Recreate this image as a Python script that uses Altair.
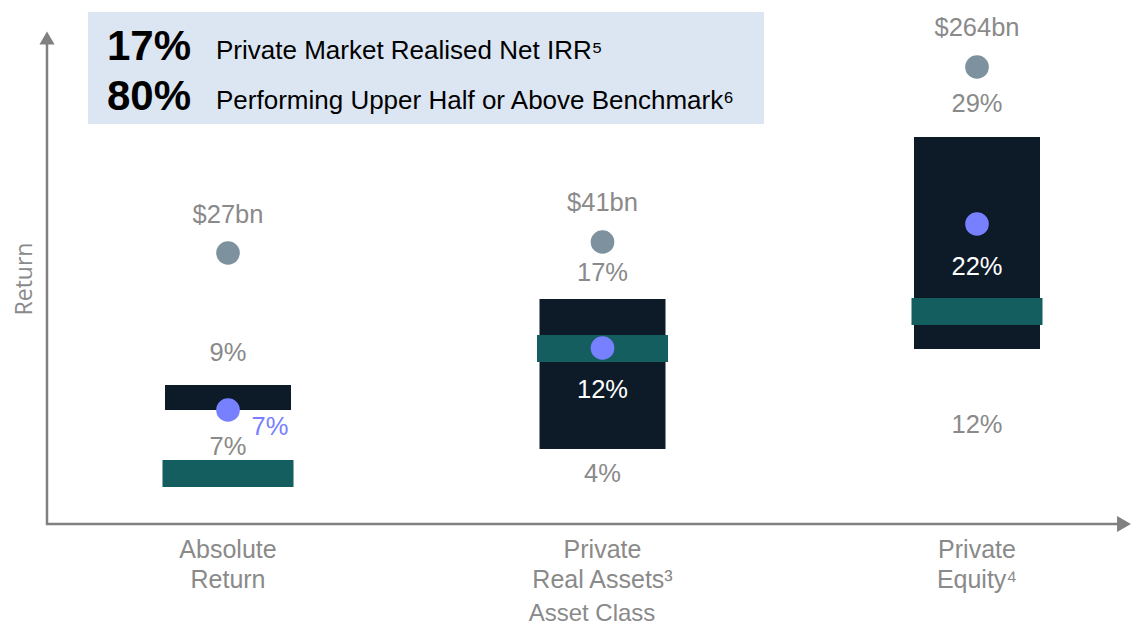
import altair as alt
import pandas as pd

# ---- data ----
categories = ["Absolute Return", "Private Real Assets", "Private Equity"]
category_labels = ["Absolute\nReturn", "Private\nReal Assets³", "Private\nEquity⁴"]
aum_text = ["$27bn", "$41bn", "$264bn"]
aum_text_pos = [30.9, 32.1, 49.6]
aum_dot_pos = [27.1, 28.2, 45.7]
upper_text = ["9%", "17%", "29%"]
upper_text_pos = [17.1, 25.1, 42.0]
range_high = [13.9, 22.5, 38.7]
range_low = [11.4, 7.5, 17.5]
bench_high = [6.4, 18.9, 22.6]
bench_low = [3.7, 16.2, 19.9]
irr_pos = [11.4, 17.6, 30.0]
irr_text = ["7%", "12%", "22%"]
irr_text_pos = [9.7, 13.4, 25.7]
lower_text = ["7%", "4%", "12%"]
lower_text_pos = [7.7, 5.0, 9.9]

headline_values = ["17%", "80%"]
headline_texts = ["Private Market Realised Net IRR⁵",
                  "Performing Upper Half or Above Benchmark⁶"]

# ---- styles ----
FONT = "'Liberation Sans', 'DejaVu Sans', sans-serif"
DARK = "#0D1A27"
TEAL = "#155E5F"
PURPLE = "#7780FF"
DOT_GREY = "#7D919E"
TEXT_GREY = "#8A8A8A"
AXIS_GREY = "#808080"
BOX = "#DCE6F2"

df = pd.DataFrame({
    "category": categories,
    "cat_label": category_labels,
    "aum_text": aum_text,
    "aum_text_pos": aum_text_pos,
    "aum_dot_pos": aum_dot_pos,
    "upper_text": upper_text,
    "upper_text_pos": upper_text_pos,
    "range_high": range_high,
    "range_low": range_low,
    "bench_high": bench_high,
    "bench_low": bench_low,
    "irr_pos": irr_pos,
    "irr_text": irr_text,
    "irr_text_pos": irr_text_pos,
    "lower_text": lower_text,
    "lower_text_pos": lower_text_pos,
})
df["idx"] = range(len(df))

x_enc = alt.X("category:N",
              scale=alt.Scale(type="point", domain=categories, range=[220, 969], padding=0),
              axis=None)
yscale = alt.Scale(domain=[0, 50], range=[516, 16])


def Y(field):
    return alt.Y(f"{field}:Q", scale=yscale, axis=None)


base = alt.Chart(df)

range_bars = base.mark_bar(size=126, color=DARK).encode(
    x=x_enc, y=Y("range_high"), y2="range_low")
bench_bars = base.mark_bar(size=131, color=TEAL).encode(
    x=x_enc, y=Y("bench_high"), y2="bench_low")
irr_dots = base.mark_circle(size=560, color=PURPLE, opacity=1).encode(
    x=x_enc, y=Y("irr_pos"))
aum_dots = base.mark_circle(size=560, color=DOT_GREY, opacity=1).encode(
    x=x_enc, y=Y("aum_dot_pos"))

txt = dict(font=FONT, fontSize=25.5, baseline="middle", align="center")
aum_labels = base.mark_text(color=TEXT_GREY, **txt).encode(
    x=x_enc, y=Y("aum_text_pos"), text="aum_text:N")
upper_labels = base.mark_text(color=TEXT_GREY, **txt).encode(
    x=x_enc, y=Y("upper_text_pos"), text="upper_text:N")
lower_labels = base.mark_text(color=TEXT_GREY, **txt).encode(
    x=x_enc, y=Y("lower_text_pos"), text="lower_text:N")
irr_label_out = base.transform_filter("datum.idx == 0").mark_text(
    color=PURPLE, dx=42, **txt).encode(x=x_enc, y=Y("irr_text_pos"), text="irr_text:N")
irr_label_in = base.transform_filter("datum.idx > 0").mark_text(
    color="white", **txt).encode(x=x_enc, y=Y("irr_text_pos"), text="irr_text:N")

cat_labels = base.mark_text(font=FONT, fontSize=25, color=TEXT_GREY, align="center",
                            baseline="alphabetic", lineBreak="\n", lineHeight=30).encode(
    x=x_enc, y=alt.value(550), text="cat_label:N")

one = pd.DataFrame({"k": [0]})
deco = alt.Chart(one)

box = deco.mark_rect(color=BOX).encode(
    x=alt.value(80), x2=alt.value(756), y=alt.value(4), y2=alt.value(116))

head_layers = []
for i, (v, t) in enumerate(zip(headline_values, headline_texts)):
    yb = 51 + 50 * i
    head_layers.append(deco.mark_text(font=FONT, fontSize=42, fontWeight="bold", color="black",
                                      align="left", baseline="alphabetic", text=v).encode(
        x=alt.value(99), y=alt.value(yb + 1)))
    head_layers.append(deco.mark_text(font=FONT, fontSize=26, color="black",
                                      align="left", baseline="alphabetic", text=t).encode(
        x=alt.value(208), y=alt.value(yb)))

y_axis_line = deco.mark_rule(color=AXIS_GREY, strokeWidth=2.5).encode(
    x=alt.value(39), y=alt.value(34), y2=alt.value(517))
x_axis_line = deco.mark_rule(color=AXIS_GREY, strokeWidth=2.5).encode(
    x=alt.value(38), x2=alt.value(1112), y=alt.value(516))
y_arrow = deco.mark_point(shape="triangle-up", size=230, filled=True, color=AXIS_GREY,
                          opacity=1).encode(x=alt.value(39), y=alt.value(30))
x_arrow = deco.mark_point(shape="triangle-right", size=256, filled=True, color=AXIS_GREY,
                          opacity=1).encode(x=alt.value(1116), y=alt.value(516))

y_title = deco.mark_text(font="Open Sans", fontSize=23, color=TEXT_GREY, angle=270,
                         align="center", baseline="middle", text="Return").encode(
    x=alt.value(17), y=alt.value(271))
x_title = deco.mark_text(font=FONT, fontSize=24, color=TEXT_GREY, align="center",
                         baseline="alphabetic", text="Asset Class").encode(
    x=alt.value(584), y=alt.value(613))

chart = alt.layer(
    box, *head_layers,
    y_axis_line, x_axis_line, y_arrow, x_arrow, y_title, x_title,
    range_bars, bench_bars, irr_dots, aum_dots,
    aum_labels, upper_labels, lower_labels, irr_label_out, irr_label_in, cat_labels,
).properties(
    width=1124, height=620, padding=0, autosize=alt.AutoSizeParams(type="none"),
    background="white"
).configure_view(stroke=None)

chart.save("out.html", embed_options={"renderer": "svg", "actions": False})
